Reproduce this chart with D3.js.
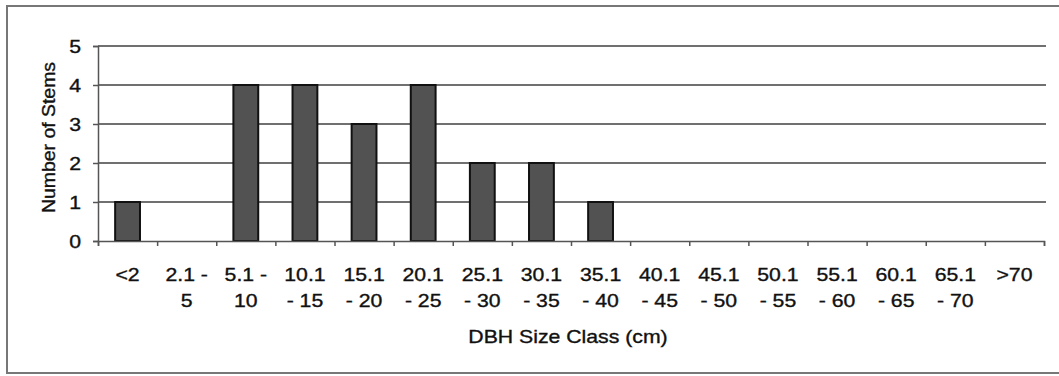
<!DOCTYPE html>
<html>
<head>
<meta charset="utf-8">
<script src="https://cdn.jsdelivr.net/npm/d3@7"></script>
<style>
  html, body { margin: 0; padding: 0; background: #fff; }
  svg { display: block; }
  text { font-family: "Liberation Sans", Arial, sans-serif; fill: #111; stroke: #111; stroke-width: 0.35px; }
</style>
</head>
<body>
<svg id="chart" width="1059" height="376"></svg>
<script>
// ---- data ----
const categoriesLine1 = ["<2", "2.1 -", "5.1 -", "10.1", "15.1", "20.1", "25.1", "30.1", "35.1", "40.1", "45.1", "50.1", "55.1", "60.1", "65.1", ">70"];
const categoriesLine2 = ["", "5", "10", "- 15", "- 20", "- 25", "- 30", "- 35", "- 40", "- 45", "- 50", "- 55", "- 60", "- 65", "- 70", ""];
const stems = [1, 0, 4, 4, 3, 4, 2, 2, 1, 0, 0, 0, 0, 0, 0, 0];
const yTicks = [0, 1, 2, 3, 4, 5];
const yTitle = "Number of Stems";
const xTitle = "DBH Size Class (cm)";

// ---- layout ----
const svg = d3.select("#chart");
const plotLeft = 98, plotRight = 1044, plotTop = 46, plotBottom = 241;
const stretch = 1.18;

svg.append("rect")
  .attr("x", 7).attr("y", 6).attr("width", 1070).attr("height", 367)
  .attr("fill", "#fff").attr("stroke", "#777").attr("stroke-width", 2);

const idx = d3.range(categoriesLine1.length);
const x = d3.scaleBand().domain(idx).range([plotLeft, plotRight]).paddingInner(0.58).paddingOuter(0.29);
const xb = d3.scaleLinear().domain([0, idx.length]).range([plotLeft, plotRight]);
const y = d3.scaleLinear().domain([0, 5]).range([plotBottom, plotTop]);

// gridlines
svg.append("g").selectAll("line").data(yTicks.filter(d => d > 0)).join("line")
  .attr("x1", plotLeft).attr("x2", plotRight + 2)
  .attr("y1", d => y(d)).attr("y2", d => y(d))
  .attr("stroke", "#404040").attr("stroke-width", 1.5);

// bars
svg.append("g").selectAll("rect").data(idx.filter(i => stems[i] > 0)).join("rect")
  .attr("x", i => x(i))
  .attr("y", i => y(stems[i]))
  .attr("width", x.bandwidth())
  .attr("height", i => y(0) - y(stems[i]))
  .attr("fill", "#525252").attr("stroke", "#111").attr("stroke-width", 2);

// y axis
const yAxis = d3.axisLeft(y).tickValues(yTicks).tickSize(5).tickFormat("");
const gy = svg.append("g").attr("transform", `translate(${plotLeft},0)`).call(yAxis);
gy.select(".domain").attr("stroke", "#555").attr("stroke-width", 1.5);
gy.selectAll(".tick line").attr("stroke", "#555").attr("stroke-width", 1.5);

svg.append("g").selectAll("text").data(yTicks).join("text")
  .attr("transform", d => `translate(81,${y(d) + 6.5}) scale(${stretch},1)`)
  .attr("text-anchor", "end")
  .attr("font-size", 18)
  .text(d => d);

// x axis (ticks between categories)
const xAxis = d3.axisBottom(xb).tickValues(d3.range(idx.length + 1)).tickSize(5).tickFormat("");
const gx = svg.append("g").attr("transform", `translate(0,${plotBottom})`).call(xAxis);
gx.select(".domain").attr("stroke", "#555").attr("stroke-width", 1.5);
gx.selectAll(".tick line").attr("stroke", "#555").attr("stroke-width", 1.5);

const lab = svg.append("g").selectAll("g").data(idx).join("g")
  .attr("transform", i => `translate(${x(i) + x.bandwidth() / 2},0)`);
lab.append("text")
  .attr("transform", `translate(0,281) scale(${stretch},1)`)
  .attr("text-anchor", "middle").attr("font-size", 18)
  .text(i => categoriesLine1[i]);
lab.append("text")
  .attr("transform", `translate(0,306.5) scale(${stretch},1)`)
  .attr("text-anchor", "middle").attr("font-size", 18)
  .text(i => categoriesLine2[i]);

// titles
svg.append("text")
  .attr("transform", `translate(568,342.5) scale(${stretch},1)`)
  .attr("text-anchor", "middle").attr("font-size", 18)
  .text(xTitle);

svg.append("text")
  .attr("transform", `translate(55,137.5) rotate(-90) scale(1.08,1)`)
  .attr("text-anchor", "middle").attr("font-size", 18)
  .text(yTitle);
</script>
</body>
</html>
